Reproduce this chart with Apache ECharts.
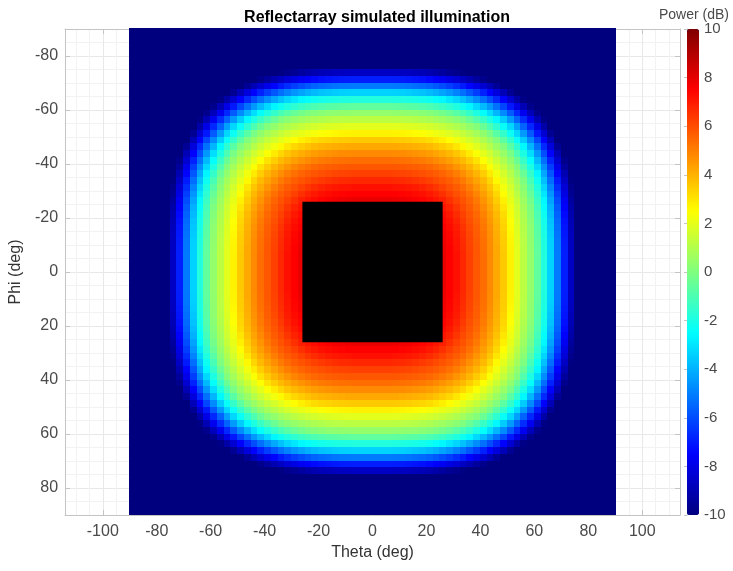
<!DOCTYPE html>
<html><head><meta charset="utf-8">
<script src="https://cdn.jsdelivr.net/npm/echarts@6/dist/echarts.min.js"></script>
<style>html,body{margin:0;padding:0;background:#fff}#c{width:733px;height:571px}</style>
</head><body><div id="c"></div>
<script>
// Cell centres (deg) of one quadrant; the pattern is symmetric, so one octant is stored
const cellCenters = [1.25,3.75,6.25,8.75,11.25,13.75,16.25,18.75,21.25,23.75,26.25,28.75,31.25,33.75,36.25,38.75,41.25,43.75,46.25,48.75,51.25,53.75,56.25,58.75,61.25,63.75,66.25,68.75,71.25,73.75,76.25,78.75,81.25,83.75,86.25,88.75];
const cellSize = 2.5;
// Power (dB). Row k = larger of |Theta|,|Phi| (cellCenters[k]),
// entry j = smaller one (cellCenters[j], j <= k).
const powerOctant = [
 [10],
 [10,10],
 [10,10,9.9],
 [9.9,9.9,9.9,9.8],
 [9.8,9.8,9.8,9.7,9.6],
 [9.6,9.6,9.6,9.55,9.5,9.4],
 [9.4,9.4,9.4,9.35,9.3,9.2,9.1],
 [9.1,9.1,9.1,9.05,9.0,8.95,8.85,8.7],
 [8.8,8.8,8.8,8.75,8.7,8.65,8.55,8.4,8.25],
 [8.4,8.4,8.4,8.38,8.35,8.3,8.2,8.1,7.95,7.8],
 [7.9,7.9,7.9,7.85,7.8,7.7,7.6,7.45,7.3,7.1,6.9],
 [7.5,7.5,7.5,7.5,7.45,7.4,7.3,7.2,7.05,6.85,6.55,6.25],
 [7.2,7.2,7.2,7.15,7.1,7.05,6.97,6.83,6.65,6.45,6.2,5.95,5.7],
 [6.75,6.75,6.75,6.7,6.67,6.6,6.5,6.38,6.23,6.05,5.86,5.66,5.4,5.1],
 [6.25,6.25,6.25,6.2,6.18,6.12,6.04,5.94,5.83,5.7,5.53,5.3,5.04,4.7,4.34],
 [5.8,5.8,5.8,5.78,5.75,5.71,5.65,5.57,5.45,5.3,5.12,4.88,4.6,4.29,3.96,3.53],
 [5.35,5.35,5.35,5.32,5.29,5.25,5.18,5.1,4.97,4.8,4.6,4.39,4.14,3.84,3.47,3.04,2.49],
 [4.8,4.8,4.8,4.77,4.74,4.69,4.62,4.53,4.41,4.27,4.09,3.88,3.62,3.3,2.89,2.43,1.98,1.56],
 [4.2,4.2,4.2,4.18,4.15,4.1,4.04,3.96,3.84,3.69,3.5,3.28,2.98,2.62,2.24,1.89,1.5,1.04,0.55],
 [3.55,3.55,3.55,3.53,3.49,3.45,3.38,3.3,3.18,3.0,2.8,2.53,2.24,1.98,1.68,1.34,0.93,0.5,0.03,-0.68],
 [2.75,2.75,2.75,2.72,2.69,2.63,2.56,2.45,2.32,2.2,2.04,1.85,1.64,1.36,1.06,0.72,0.34,-0.11,-0.75,-1.48,-2.28],
 [1.95,1.95,1.95,1.93,1.9,1.87,1.81,1.74,1.65,1.52,1.36,1.16,0.93,0.68,0.38,0.08,-0.42,-0.99,-1.62,-2.35,-3.29,-4.36],
 [1.2,1.2,1.2,1.18,1.15,1.11,1.06,0.98,0.88,0.76,0.61,0.43,0.23,-0.02,-0.42,-0.87,-1.39,-1.96,-2.63,-3.51,-4.47,-5.55,-6.63],
 [0.4,0.4,0.4,0.38,0.36,0.32,0.27,0.2,0.1,-0.01,-0.22,-0.46,-0.76,-1.08,-1.48,-1.94,-2.43,-3.15,-3.92,-4.79,-5.73,-6.74,-7.8,-8.8],
 [-0.6,-0.6,-0.6,-0.62,-0.66,-0.71,-0.78,-0.88,-1.01,-1.16,-1.37,-1.62,-1.9,-2.24,-2.66,-3.24,-3.84,-4.51,-5.3,-6.14,-7.04,-7.98,-8.94,-9.75,-10],
 [-1.85,-1.85,-1.85,-1.88,-1.91,-1.96,-2.03,-2.13,-2.25,-2.42,-2.64,-2.94,-3.3,-3.72,-4.18,-4.71,-5.33,-6.0,-6.71,-7.51,-8.35,-9.19,-9.85,-10,-10,-10],
 [-3.35,-3.35,-3.35,-3.38,-3.42,-3.49,-3.58,-3.69,-3.84,-4.03,-4.27,-4.57,-4.92,-5.31,-5.78,-6.28,-6.86,-7.49,-8.17,-8.89,-9.6,-10,-10,-10,-10,-10,-10],
 [-5.1,-5.1,-5.1,-5.13,-5.16,-5.23,-5.32,-5.43,-5.58,-5.77,-6.0,-6.29,-6.61,-6.98,-7.43,-7.91,-8.4,-8.96,-9.55,-10,-10,-10,-10,-10,-10,-10,-10,-10],
 [-6.9,-6.9,-6.9,-6.93,-6.96,-7.03,-7.11,-7.21,-7.35,-7.53,-7.75,-8.0,-8.28,-8.63,-8.99,-9.42,-9.74,-10,-10,-10,-10,-10,-10,-10,-10,-10,-10,-10,-10],
 [-8.65,-8.65,-8.65,-8.68,-8.71,-8.76,-8.83,-8.92,-9.05,-9.2,-9.4,-9.58,-9.74,-9.92,-10,-10,-10,-10,-10,-10,-10,-10,-10,-10,-10,-10,-10,-10,-10,-10],
 [-10,-10,-10,-10,-10,-10,-10,-10,-10,-10,-10,-10,-10,-10,-10,-10,-10,-10,-10,-10,-10,-10,-10,-10,-10,-10,-10,-10,-10,-10,-10],
 [-10,-10,-10,-10,-10,-10,-10,-10,-10,-10,-10,-10,-10,-10,-10,-10,-10,-10,-10,-10,-10,-10,-10,-10,-10,-10,-10,-10,-10,-10,-10,-10],
 [-10,-10,-10,-10,-10,-10,-10,-10,-10,-10,-10,-10,-10,-10,-10,-10,-10,-10,-10,-10,-10,-10,-10,-10,-10,-10,-10,-10,-10,-10,-10,-10,-10],
 [-10,-10,-10,-10,-10,-10,-10,-10,-10,-10,-10,-10,-10,-10,-10,-10,-10,-10,-10,-10,-10,-10,-10,-10,-10,-10,-10,-10,-10,-10,-10,-10,-10,-10],
 [-10,-10,-10,-10,-10,-10,-10,-10,-10,-10,-10,-10,-10,-10,-10,-10,-10,-10,-10,-10,-10,-10,-10,-10,-10,-10,-10,-10,-10,-10,-10,-10,-10,-10,-10],
 [-10,-10,-10,-10,-10,-10,-10,-10,-10,-10,-10,-10,-10,-10,-10,-10,-10,-10,-10,-10,-10,-10,-10,-10,-10,-10,-10,-10,-10,-10,-10,-10,-10,-10,-10,-10]
];
// Blocked (black) feed region
const blockTheta = [-26, 26];
const blockPhi = [-26, 26];
const xTicks = [-100,-80,-60,-40,-20,0,20,40,60,80,100];
const yTicks = [-80,-60,-40,-20,0,20,40,60,80];
const xMinor = [-110,-105,-95,-90,-85,-75,-70,-65,-55,-50,-45,-35,-30,-25,-15,-10,-5,5,10,15,25,30,35,45,50,55,65,70,75,85,90,95,105,110];
const yMinor = [-90,-85,-75,-70,-65,-55,-50,-45,-35,-30,-25,-15,-10,-5,5,10,15,25,30,35,45,50,55,65,70,75,85,90];
const colorbarMin = -10, colorbarMax = 10, colorbarStep = 2;
const jet = ['#00007F','#0000FF','#007FFF','#00FFFF','#7FFF7F','#FFFF00','#FF7F00','#FF0000','#7F0000'];

// Place the stored octant values into all cells by symmetry
const signedCenters = cellCenters.slice().reverse().map(c => -c).concat(cellCenters);
const data = [];
signedCenters.forEach(p => {
  signedCenters.forEach(t => {
    const a = cellCenters.indexOf(Math.abs(p));
    const b = cellCenters.indexOf(Math.abs(t));
    const hi = Math.max(a, b), lo = Math.min(a, b);
    data.push([t, p, powerOctant[hi][lo]]);
  });
});

const frame = '#c4c4c4';
const lbl = '#4a4a4a';
const font = 'Liberation Sans, Arial, sans-serif';
const chart = echarts.init(document.getElementById('c'), null, {renderer: 'canvas'});
chart.setOption({
  backgroundColor: '#fff',
  animation: false,
  title: {text: 'Reflectarray simulated illumination', left: 372, top: 5, textAlign: 'center',
    textStyle: {fontFamily: font, fontSize: 16, fontWeight: 'bold', color: '#000'}},
  graphic: [{type: 'text', left: 659, top: 8, style: {text: 'Power (dB)', fontFamily: font, fontSize: 14, fill: lbl}}],
  grid: [
    {left: 64, top: 29, width: 616, height: 486},
    {left: 687, top: 29, width: 12, height: 486}
  ],
  xAxis: [
    {type: 'value', gridIndex: 0, min: -114, max: 114, position: 'bottom',
     name: 'Theta (deg)', nameLocation: 'middle', nameGap: 26,
     nameTextStyle: {fontFamily: font, fontSize: 16, color: '#333'},
     axisLine: {show: true, onZero: false, lineStyle: {color: frame}},
     axisTick: {show: true, inside: true, length: 5, customValues: xTicks, lineStyle: {color: frame}},
     axisLabel: {customValues: xTicks, fontFamily: font, fontSize: 16, color: lbl, margin: 9},
     splitLine: {show: true, lineStyle: {color: '#e8e8e8', width: 1}}},
    {type: 'value', gridIndex: 0, min: -114, max: 114, position: 'top',
     axisLine: {show: true, onZero: false, lineStyle: {color: frame}},
     axisTick: {show: true, inside: true, length: 5, customValues: xTicks, lineStyle: {color: frame}},
     axisLabel: {show: false}, splitLine: {show: false}},
    {type: 'value', gridIndex: 0, min: -114, max: 114,
     axisLine: {show: false}, axisTick: {show: false, customValues: xMinor}, axisLabel: {show: false, customValues: xMinor},
     splitLine: {show: true, lineStyle: {color: '#f2f2f2', width: 1}}},
    {type: 'value', gridIndex: 1, show: false, min: 0, max: 1}
  ],
  yAxis: [
    {type: 'value', gridIndex: 0, min: -90, max: 90, inverse: true, position: 'left',
     name: 'Phi (deg)', nameLocation: 'middle', nameGap: 30,
     nameTextStyle: {fontFamily: font, fontSize: 16, color: '#333'},
     axisLine: {show: true, onZero: false, lineStyle: {color: frame}},
     axisTick: {show: true, inside: true, length: 5, customValues: yTicks, lineStyle: {color: frame}},
     axisLabel: {customValues: yTicks, fontFamily: font, fontSize: 16, color: lbl, margin: 7},
     splitLine: {show: true, lineStyle: {color: '#e8e8e8', width: 1}}},
    {type: 'value', gridIndex: 0, min: -90, max: 90, inverse: true, position: 'right',
     axisLine: {show: true, onZero: false, lineStyle: {color: frame}},
     axisTick: {show: true, inside: true, length: 5, customValues: yTicks, lineStyle: {color: frame}},
     axisLabel: {show: false}, splitLine: {show: false}},
    {type: 'value', gridIndex: 0, min: -90, max: 90, inverse: true,
     axisLine: {show: false}, axisTick: {show: false, customValues: yMinor}, axisLabel: {show: false, customValues: yMinor},
     splitLine: {show: true, lineStyle: {color: '#f2f2f2', width: 1}}},
    {type: 'value', gridIndex: 1, min: colorbarMin, max: colorbarMax, interval: colorbarStep, position: 'right',
     axisLine: {show: true, lineStyle: {color: frame}},
     axisTick: {show: true, inside: true, length: 3, lineStyle: {color: frame}},
     axisLabel: {fontFamily: font, fontSize: 15, color: lbl, margin: 5},
     splitLine: {show: false}}
  ],
  visualMap: {
    type: 'continuous', min: colorbarMin, max: colorbarMax, dimension: 2, seriesIndex: 0,
    calculable: false, orient: 'vertical', left: 687, top: 29, padding: 0,
    itemWidth: 12, itemHeight: 486, text: null, showLabel: false,
    inRange: {color: jet}, outOfRange: {color: '#00007F'}
  },
  series: [
    {type: 'custom', xAxisIndex: 0, yAxisIndex: 0, data: data, silent: true, clip: true,
     encode: {x: 0, y: 1},
     renderItem: function (params, api) {
       const t = api.value(0), p = api.value(1);
       const a = api.coord([t - cellSize / 2, p - cellSize / 2]);
       const b = api.coord([t + cellSize / 2, p + cellSize / 2]);
       const x0 = Math.min(a[0], b[0]), x1 = Math.max(a[0], b[0]);
       const y0 = Math.min(a[1], b[1]), y1 = Math.max(a[1], b[1]);
       return {type: 'rect', shape: {x: Math.floor(x0), y: Math.floor(y0),
               width: Math.ceil(x1) - Math.floor(x0) + (t < 88 ? 1 : 0),
               height: Math.ceil(y1) - Math.floor(y0) + (p < 88 ? 1 : 0)},
               style: {fill: api.visual('color')}};
     }},
    {type: 'custom', xAxisIndex: 0, yAxisIndex: 0, silent: true, z: 3,
     data: [[blockTheta[0], blockPhi[0], blockTheta[1], blockPhi[1]]],
     encode: {x: [0, 2], y: [1, 3]},
     renderItem: function (params, api) {
       const a = api.coord([api.value(0), api.value(1)]);
       const b = api.coord([api.value(2), api.value(3)]);
       return {type: 'rect', shape: {x: Math.min(a[0], b[0]), y: Math.min(a[1], b[1]), width: Math.abs(b[0] - a[0]), height: Math.abs(b[1] - a[1])},
               style: {fill: '#000'}};
     }}
  ]
});
</script></body></html>
